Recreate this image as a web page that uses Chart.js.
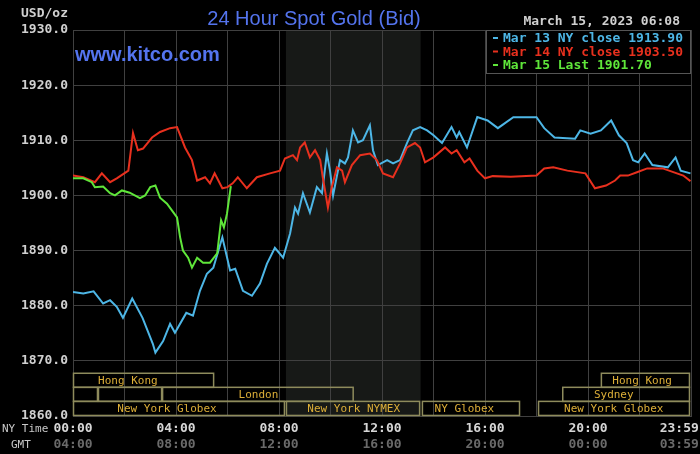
<!DOCTYPE html>
<html lang="en">
<head>
  <meta charset="UTF-8">
  <title>24 Hour Spot Gold (Bid)</title>
  <script src="https://cdn.jsdelivr.net/npm/chart.js"></script>
  <style>
    body {
      margin: 0;
      background: #000;
      overflow: hidden;
    }
    .chart-box {
      position: relative;
      width: 700px;
      height: 454px;
    }
  </style>
</head>
<body>
  <div class="chart-box">
    <canvas id="goldChart"></canvas>
  </div>

  <script>
    // Mar 13 (blue), hours in NY time and bid price
    const mar13Hours = [0, 0.4, 0.8, 1.17, 1.44, 1.7, 1.94, 2.3, 2.7, 3.1, 3.2, 3.5, 3.77, 3.96, 4.4, 4.66, 4.93, 5.2, 5.45, 5.8,
      6.1, 6.3, 6.6, 6.95, 7.26, 7.53, 7.84, 8.16, 8.43, 8.62, 8.74, 8.93, 9.2, 9.47, 9.67, 9.86, 9.98, 10.1, 10.37, 10.56,
      10.68, 10.87, 11.07, 11.26, 11.53, 11.65, 11.84, 12.2, 12.43, 12.7, 12.97, 13.2, 13.48, 13.75, 14.0, 14.33, 14.7, 14.9,
      15.0, 15.3, 15.7, 16.1, 16.5, 17.1, 18.0, 18.3, 18.7, 19.5, 19.7, 20.1, 20.5, 20.9, 21.2, 21.5, 21.75, 21.95, 22.2,
      22.5, 23.1, 23.4, 23.6, 23.98];
    const mar13Prices = [1882.5, 1882.2, 1882.6, 1880.4, 1881.0, 1879.8, 1877.8, 1881.3, 1877.8, 1873.1, 1871.5, 1873.6, 1876.7, 1875.1, 1878.7, 1878.2, 1882.7, 1885.8, 1886.9, 1892.4,
      1886.4, 1886.7, 1882.7, 1881.8, 1884.0, 1887.6, 1890.5, 1888.7, 1893.1, 1897.8, 1896.7, 1900.4, 1896.9, 1901.5, 1900.4, 1907.6, 1904.5, 1900.0, 1906.4, 1905.8,
      1906.9, 1911.8, 1909.6, 1910.0, 1912.7, 1908.2, 1905.5, 1906.4, 1905.8, 1906.4, 1909.5, 1911.8, 1912.4, 1911.8, 1910.9, 1909.5, 1912.4, 1910.5,
      1911.5, 1908.7, 1914.2, 1913.6, 1912.2, 1914.2, 1914.2, 1912.2, 1910.5, 1910.3, 1911.8, 1911.2, 1911.8, 1913.6, 1910.9, 1909.5, 1906.4, 1906.0, 1907.6,
      1905.5, 1905.1, 1906.9, 1904.5, 1904.0];

    // Mar 14 (red)
    const mar14Hours = [0, 0.4, 0.85, 1.12, 1.44, 1.7, 2.15, 2.33, 2.52, 2.72, 3.07, 3.38, 3.77, 4.04, 4.35, 4.62, 4.82, 5.13, 5.32, 5.5,
      5.8, 6.0, 6.2, 6.4, 6.75, 7.14, 7.65, 8.04, 8.23, 8.54, 8.7, 8.82, 9.0, 9.2, 9.4, 9.6, 9.7, 9.9, 10.05, 10.25,
      10.45, 10.56, 10.83, 11.15, 11.53, 11.8, 12.04, 12.43, 12.7, 12.97, 13.28, 13.48, 13.67, 14.0, 14.45, 14.7, 14.9, 15.2,
      15.4, 15.7, 16.0, 16.3, 17.0, 18.0, 18.3, 18.65, 19.2, 19.9, 20.27, 20.7, 21.05, 21.25, 21.55, 21.9, 22.3, 22.9, 23.7, 23.98];
    const mar14Prices = [1903.6, 1903.3, 1902.4, 1904.0, 1902.4, 1903.1, 1904.5, 1911.3, 1908.2, 1908.5, 1910.5, 1911.5, 1912.2, 1912.4, 1908.7, 1906.4, 1902.7, 1903.3, 1902.2, 1904.0,
      1901.3, 1901.5, 1902.2, 1903.3, 1901.3, 1903.3, 1904.0, 1904.5, 1906.7, 1907.3, 1906.4, 1908.7, 1909.6, 1906.9, 1908.2, 1906.4, 1903.3, 1897.8, 1901.5, 1905.1,
      1904.5, 1902.4, 1905.5, 1907.3, 1907.6, 1906.4, 1904.0, 1903.3, 1905.8, 1908.7, 1909.5, 1908.7, 1906.0, 1906.9, 1908.7, 1907.6, 1908.2, 1906.0,
      1906.7, 1904.5, 1903.1, 1903.5, 1903.4, 1903.6, 1904.9, 1905.1, 1904.5, 1904.0, 1901.3, 1901.8, 1902.7, 1903.6, 1903.6, 1904.2, 1904.9, 1904.9, 1903.6, 1902.6];

    // Mar 15 (green), up to 06:08
    const mar15Hours = [0, 0.4, 0.73, 0.85, 1.17, 1.44, 1.63, 1.9, 2.2, 2.6, 2.8, 3.0, 3.2, 3.38, 3.65, 3.84, 4.04, 4.16, 4.27, 4.47,
      4.62, 4.82, 5.05, 5.32, 5.6, 5.75, 5.86, 5.98, 6.13];
    const mar15Prices = [1903.1, 1903.1, 1902.4, 1901.5, 1901.6, 1900.4, 1900.0, 1900.9, 1900.5, 1899.5, 1900.0, 1901.5, 1901.8, 1899.6, 1898.5, 1897.3, 1896.0, 1892.4, 1890.0, 1888.7,
      1886.9, 1888.7, 1887.8, 1887.8, 1889.5, 1895.5, 1894.2, 1896.7, 1901.7];

    const seriesLabels = ['Mar 13 NY close 1913.90', 'Mar 14 NY close 1903.50', 'Mar 15 Last 1901.70'];

    // axes
    const yMin = 1860, yMax = 1930, yStep = 10;
    const gridHours = [0, 2, 4, 6, 8, 10, 12, 14, 16, 18, 20, 22, 24];
    const labelHours = [0, 4, 8, 12, 16, 20, 24];
    const nyLabels = ['00:00', '04:00', '08:00', '12:00', '16:00', '20:00', '23:59'];
    const gmtLabels = ['04:00', '08:00', '12:00', '16:00', '20:00', '00:00', '03:59'];

    // trading sessions (hours NY time, row 0 = top)
    const sessionNames = ['Hong Kong', '', '', 'London', 'New York Globex', 'New York NYMEX', 'NY Globex', 'New York Globex', 'Sydney', 'Hong Kong'];
    const sessionStart = [0, 0, 0.97, 3.46, 0, 8.27, 13.55, 18.06, 19.0, 20.5];
    const sessionEnd   = [5.48, 0.97, 3.46, 10.9, 8.23, 13.48, 17.36, 23.96, 23.96, 23.96];
    const sessionRow   = [0, 1, 1, 1, 2, 2, 2, 2, 1, 0];
    const sessionTextHour = [2.13, 0, 0, 7.2, 3.65, 10.9, 15.2, 21.0, 21.0, 22.1];
    const rowTop = [1867.75, 1865.2, 1862.65];
    const rowBottom = [1865.2, 1862.65, 1860.1];
    const nymexStart = 8.27, nymexEnd = 13.5;

    const colors = ['#4db6e6', '#e8301e', '#5fe63a'];
    const gridColor = '#404040';
    const mono = '"DejaVu Sans Mono", monospace';

    function points(hours, prices) {
      return hours.map((h, i) => ({ x: h, y: prices[i] }));
    }

    function padScale(scale) {
      scale.paddingLeft = 0;
      scale.paddingRight = 0;
    }

    const kitcoPlugin = {
      id: 'kitco',
      beforeDraw(chart) {
        const { ctx, chartArea: a, scales: { x } } = chart;
        ctx.save();
        ctx.fillStyle = '#000';
        ctx.fillRect(0, 0, chart.width, chart.height);
        const x0 = x.getPixelForValue(nymexStart);
        const x1 = x.getPixelForValue(nymexEnd);
        ctx.fillStyle = '#171917';
        ctx.fillRect(x0, a.top, x1 - x0, a.bottom - a.top);
        ctx.restore();
      },
      beforeDatasetsDraw(chart) {
        const { ctx, scales: { x, y } } = chart;
        ctx.save();
        ctx.strokeStyle = '#8e8b5c';
        ctx.lineWidth = 1.5;
        ctx.fillStyle = '#dcae38';
        ctx.font = '11px ' + mono;
        ctx.textAlign = 'center';
        ctx.textBaseline = 'middle';
        sessionNames.forEach((name, i) => {
          const x0 = x.getPixelForValue(sessionStart[i]);
          const x1 = x.getPixelForValue(sessionEnd[i]);
          const y0 = y.getPixelForValue(rowTop[sessionRow[i]]);
          const y1 = y.getPixelForValue(rowBottom[sessionRow[i]]);
          ctx.strokeRect(x0 + 0.5, y0, x1 - x0 - 1, y1 - y0);
          if (name) {
            ctx.fillText(name, x.getPixelForValue(sessionTextHour[i]), (y0 + y1) / 2 + 1);
          }
        });
        ctx.restore();
      },
      afterDatasetsDraw(chart) {
        const { ctx, chartArea: a } = chart;
        // legend box in the top right corner
        const left = a.right - 205, top = a.top, h = 43;
        ctx.save();
        ctx.fillStyle = '#000';
        ctx.fillRect(left, top, a.right - left, h);
        ctx.strokeStyle = '#555';
        ctx.lineWidth = 1;
        ctx.strokeRect(left + 0.5, top + 0.5, a.right - left - 1, h);
        ctx.font = 'bold 13px ' + mono;
        ctx.textBaseline = 'middle';
        chart.data.datasets.forEach((ds, i) => {
          const ly = top + 8 + i * 13.5;
          ctx.strokeStyle = ds.borderColor;
          ctx.lineWidth = 2;
          ctx.beginPath();
          ctx.moveTo(left + 7, ly);
          ctx.lineTo(left + 12, ly);
          ctx.stroke();
          ctx.fillStyle = ds.borderColor;
          ctx.fillText(ds.label, left + 17, ly + 1);
        });
        ctx.restore();
      },
      afterDraw(chart) {
        const { ctx, chartArea: a } = chart;
        ctx.save();
        ctx.fillStyle = '#5474ee';
        ctx.font = '20px "Liberation Sans", Arial, sans-serif';
        ctx.textAlign = 'center';
        ctx.textBaseline = 'alphabetic';
        ctx.fillText('24 Hour Spot Gold (Bid)', 314, 25);
        ctx.font = 'bold 20px "Liberation Sans", Arial, sans-serif';
        ctx.textAlign = 'left';
        ctx.fillText('www.kitco.com', a.left + 2, 61);

        ctx.fillStyle = '#d0d0d0';
        ctx.font = 'bold 13px ' + mono;
        ctx.textAlign = 'right';
        ctx.textBaseline = 'middle';
        ctx.fillText('USD/oz', a.left - 5, 14);
        ctx.fillText('March 15, 2023 06:08', 680, 22);

        ctx.font = '11px ' + mono;
        ctx.fillStyle = '#c8c8c8';
        ctx.textAlign = 'left';
        ctx.fillText('NY Time', 2, a.bottom + 13);
        ctx.fillText('GMT', 11, a.bottom + 29);
        ctx.restore();
      }
    };

    const ctx = document.getElementById('goldChart').getContext('2d');
    const chart = new Chart(ctx, {
      type: 'line',
      data: {
        datasets: [
          { label: seriesLabels[0], data: points(mar13Hours, mar13Prices), borderColor: colors[0], order: 3 },
          { label: seriesLabels[1], data: points(mar14Hours, mar14Prices), borderColor: colors[1], order: 2 },
          { label: seriesLabels[2], data: points(mar15Hours, mar15Prices), borderColor: colors[2], order: 1 }
        ]
      },
      options: {
        responsive: true,
        maintainAspectRatio: false,
        animation: false,
        layout: { padding: { top: 30, right: 9, bottom: 4, left: 0 } },
        elements: {
          line: { borderWidth: 2, tension: 0 },
          point: { radius: 0 }
        },
        plugins: {
          legend: { display: false },
          tooltip: { enabled: false }
        },
        scales: {
          x: {
            type: 'linear',
            min: 0,
            max: 24,
            afterBuildTicks: s => { s.ticks = gridHours.map(v => ({ value: v })); },
            afterFit: s => { padScale(s); s.height = 17; },
            grid: { color: gridColor, drawTicks: false },
            border: { color: gridColor },
            ticks: {
              autoSkip: false,
              maxRotation: 0,
              padding: 5,
              color: '#d6d6d6',
              font: { family: mono, size: 13, weight: 'bold' },
              callback: v => {
                const i = labelHours.indexOf(v);
                if (i < 0) return '';
                return v === 24 ? nyLabels[i] + '   ' : nyLabels[i];
              }
            }
          },
          x2: {
            type: 'linear',
            position: 'bottom',
            min: 0,
            max: 24,
            afterBuildTicks: s => { s.ticks = gridHours.map(v => ({ value: v })); },
            afterFit: s => { padScale(s); s.height = 17; },
            grid: { display: false, drawTicks: false },
            border: { display: false },
            ticks: {
              autoSkip: false,
              maxRotation: 0,
              padding: 4,
              color: '#6a6a6a',
              font: { family: mono, size: 13, weight: 'bold' },
              callback: v => {
                const i = labelHours.indexOf(v);
                if (i < 0) return '';
                return v === 24 ? gmtLabels[i] + '   ' : gmtLabels[i];
              }
            }
          },
          y: {
            min: yMin,
            max: yMax,
            afterFit: s => { s.width = 73; },
            grid: { color: gridColor, drawTicks: false },
            border: { color: gridColor },
            ticks: {
              stepSize: yStep,
              padding: 5,
              color: '#d0d0d0',
              font: { family: mono, size: 13, weight: 'bold' },
              callback: v => v.toFixed(1)
            }
          }
        }
      },
      plugins: [kitcoPlugin]
    });
  </script>
</body>
</html>
